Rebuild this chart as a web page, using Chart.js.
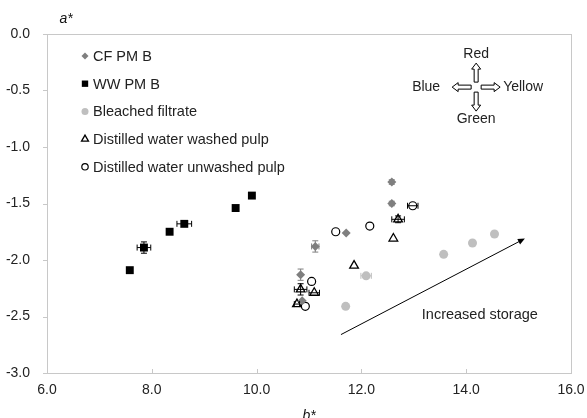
<!DOCTYPE html>
<html>
<head>
<meta charset="utf-8">
<script src="https://cdn.jsdelivr.net/npm/chart.js@4.4.1/dist/chart.umd.min.js"></script>
<style>
  html, body { margin: 0; padding: 0; background: #fff; }
</style>
</head>
<body>
<canvas id="chart" width="587" height="418"></canvas>
<script>
// b* (x), a* (y) and +/- error values
const cfX = [12.58, 12.58, 11.71, 11.12, 10.84, 10.87];
const cfY = [-1.31, -1.50, -1.76, -1.88, -2.13, -2.36];
const cfXErr = [0, 0, 0, 0.07, 0, 0];
const cfYErr = [0.02, 0.02, 0, 0.05, 0.05, 0];

const wwX = [7.58, 7.85, 8.34, 8.62, 9.60, 9.91];
const wwY = [-2.09, -1.89, -1.75, -1.68, -1.54, -1.43];
const wwXErr = [0, 0.13, 0.03, 0.14, 0, 0.05];
const wwYErr = [0, 0.05, 0.02, 0, 0, 0.02];

const bleachX = [14.54, 14.12, 13.57, 12.09, 11.70];
const bleachY = [-1.77, -1.85, -1.95, -2.14, -2.41];
const bleachXErr = [0, 0, 0, 0.1, 0];
const bleachYErr = [0, 0, 0, 0, 0];

const washedX = [12.70, 12.61, 11.86, 10.84, 11.10, 10.77];
const washedY = [-1.64, -1.81, -2.05, -2.26, -2.29, -2.39];
const washedXErr = [0.12, 0, 0, 0.12, 0.1, 0.05];
const washedYErr = [0.03, 0, 0, 0.05, 0, 0];

const unwashedX = [12.98, 12.16, 11.51, 11.05, 10.93];
const unwashedY = [-1.52, -1.70, -1.75, -2.19, -2.41];
const unwashedXErr = [0.1, 0, 0, 0, 0];
const unwashedYErr = [0, 0, 0, 0, 0];

const xTicks = [6, 8, 10, 12, 14, 16];
const yTicks = [-3.0, -2.5, -2.0, -1.5, -1.0, -0.5, 0.0];

// annotations, in data units
const storageArrow = { x0: 11.61, y0: -2.66, x1: 15.12, y1: -1.81 };
const storageLabel = { x: 14.26, y: -2.49, text: 'Increased storage' };
const compass = { x: 14.19, y: -0.47 };

const FONT = '"Liberation Sans", Arial, sans-serif';

function points(xs, ys, xe, ye) {
  return xs.map((x, i) => ({ x: x, y: ys[i], xErr: xe[i], yErr: ye[i] }));
}

const errorBars = {
  id: 'errorBars',
  afterDatasetsDraw(chart) {
    const ctx = chart.ctx;
    const xs = chart.scales.x, ys = chart.scales.y;
    chart.data.datasets.forEach(ds => {
      ctx.save();
      ctx.strokeStyle = ds.errColor;
      ctx.lineWidth = 1;
      ds.data.forEach(p => {
        const px = xs.getPixelForValue(p.x), py = ys.getPixelForValue(p.y);
        if (p.xErr) {
          const l = xs.getPixelForValue(p.x - p.xErr), r = xs.getPixelForValue(p.x + p.xErr);
          ctx.beginPath();
          ctx.moveTo(l, py); ctx.lineTo(r, py);
          ctx.moveTo(l, py - 3); ctx.lineTo(l, py + 3);
          ctx.moveTo(r, py - 3); ctx.lineTo(r, py + 3);
          ctx.stroke();
        }
        if (p.yErr) {
          const t = ys.getPixelForValue(p.y + p.yErr), b = ys.getPixelForValue(p.y - p.yErr);
          ctx.beginPath();
          ctx.moveTo(px, t); ctx.lineTo(px, b);
          ctx.moveTo(px - 3, t); ctx.lineTo(px + 3, t);
          ctx.moveTo(px - 3, b); ctx.lineTo(px + 3, b);
          ctx.stroke();
        }
      });
      ctx.restore();
    });
  }
};

function blockArrow(ctx, cx, cy, angle) {
  // outlined block arrow pointing along angle, starting near the centre
  ctx.save();
  ctx.translate(cx, cy);
  ctx.rotate(angle);
  ctx.beginPath();
  ctx.moveTo(5, -2);
  ctx.lineTo(18, -2);
  ctx.lineTo(18, -4.5);
  ctx.lineTo(24, 0);
  ctx.lineTo(18, 4.5);
  ctx.lineTo(18, 2);
  ctx.lineTo(5, 2);
  ctx.closePath();
  ctx.fillStyle = '#fff';
  ctx.fill();
  ctx.strokeStyle = '#000';
  ctx.lineWidth = 1;
  ctx.stroke();
  ctx.restore();
}

const decorations = {
  id: 'decorations',
  beforeDatasetsDraw(chart) {
    const { ctx, chartArea: a } = chart;
    const xs = chart.scales.x, ys = chart.scales.y;
    ctx.save();
    ctx.strokeStyle = '#c8c8c8';
    ctx.lineWidth = 1;
    ctx.strokeRect(Math.round(a.left) + 0.5, Math.round(a.top) + 0.5,
      Math.round(a.right - a.left), Math.round(a.bottom - a.top));
    ctx.beginPath();
    xTicks.forEach(v => {
      const px = Math.round(xs.getPixelForValue(v)) + 0.5;
      ctx.moveTo(px, a.bottom); ctx.lineTo(px, a.bottom - 4);
    });
    yTicks.forEach(v => {
      const py = Math.round(ys.getPixelForValue(v)) + 0.5;
      ctx.moveTo(a.left, py); ctx.lineTo(a.left - 4, py);
    });
    ctx.stroke();

    // axis titles
    ctx.fillStyle = '#111';
    ctx.font = 'italic 14px ' + FONT;
    ctx.textAlign = 'center';
    ctx.textBaseline = 'middle';
    ctx.fillText('a*', 66, 19);
    ctx.fillText('b*', (a.left + a.right) / 2, 416);

    // storage arrow
    const x0 = xs.getPixelForValue(storageArrow.x0), y0 = ys.getPixelForValue(storageArrow.y0);
    const x1 = xs.getPixelForValue(storageArrow.x1), y1 = ys.getPixelForValue(storageArrow.y1);
    const ang = Math.atan2(y1 - y0, x1 - x0);
    ctx.strokeStyle = '#000';
    ctx.fillStyle = '#000';
    ctx.beginPath();
    ctx.moveTo(x0, y0); ctx.lineTo(x1 - 5 * Math.cos(ang), y1 - 5 * Math.sin(ang));
    ctx.stroke();
    ctx.beginPath();
    ctx.moveTo(x1, y1);
    ctx.lineTo(x1 - 7 * Math.cos(ang) + 3 * Math.sin(ang), y1 - 7 * Math.sin(ang) - 3 * Math.cos(ang));
    ctx.lineTo(x1 - 7 * Math.cos(ang) - 3 * Math.sin(ang), y1 - 7 * Math.sin(ang) + 3 * Math.cos(ang));
    ctx.closePath();
    ctx.fill();

    ctx.font = '14.5px ' + FONT;
    ctx.fillStyle = '#222';
    ctx.fillText(storageLabel.text, xs.getPixelForValue(storageLabel.x), ys.getPixelForValue(storageLabel.y));

    // colour compass
    const cx = xs.getPixelForValue(compass.x), cy = ys.getPixelForValue(compass.y);
    blockArrow(ctx, cx, cy, -Math.PI / 2);
    blockArrow(ctx, cx, cy, Math.PI / 2);
    blockArrow(ctx, cx, cy, Math.PI);
    blockArrow(ctx, cx, cy, 0);
    ctx.font = '14px ' + FONT;
    ctx.fillStyle = '#222';
    ctx.textAlign = 'center';
    ctx.fillText('Red', cx, cy - 33);
    ctx.fillText('Green', cx, cy + 32);
    ctx.textAlign = 'right';
    ctx.fillText('Blue', cx - 36, cy);
    ctx.textAlign = 'left';
    ctx.fillText('Yellow', cx + 27, cy);

    // legend inside the plot
    ctx.font = '14.5px ' + FONT;
    ctx.textAlign = 'left';
    chart.data.datasets.forEach((ds, i) => {
      const ly = a.top + 22 + i * 27.7;
      ctx.save();
      ctx.fillStyle = ds.pointBackgroundColor;
      ctx.strokeStyle = ds.pointBorderColor;
      ctx.lineWidth = ds.pointBorderWidth;
      Chart.helpers.drawPoint(ctx, {
        pointStyle: ds.pointStyle,
        radius: ds.legendRadius,
        borderWidth: ds.pointBorderWidth
      }, 85, ly);
      ctx.restore();
      ctx.fillStyle = '#222';
      ctx.fillText(ds.label, 93, ly + 1);
    });
    ctx.restore();
  }
};

const ctx = document.getElementById('chart').getContext('2d');
new Chart(ctx, {
  type: 'scatter',
  data: {
    datasets: [
      {
        label: 'CF PM B',
        data: points(cfX, cfY, cfXErr, cfYErr),
        pointStyle: 'rectRot',
        pointRadius: 4.5,
        legendRadius: 3.5,
        pointBackgroundColor: '#7f7f7f',
        pointBorderColor: '#7f7f7f',
        pointBorderWidth: 0,
        errColor: '#7f7f7f',
      },
      {
        label: 'WW PM B',
        data: points(wwX, wwY, wwXErr, wwYErr),
        pointStyle: 'rect',
        pointRadius: 5.6,
        legendRadius: 4.5,
        pointBackgroundColor: '#000',
        pointBorderColor: '#000',
        pointBorderWidth: 0,
        errColor: '#000',
      },
      {
        label: 'Bleached filtrate',
        data: points(bleachX, bleachY, bleachXErr, bleachYErr),
        pointStyle: 'circle',
        pointRadius: 4.5,
        legendRadius: 3.5,
        pointBackgroundColor: '#bfbfbf',
        pointBorderColor: '#bfbfbf',
        pointBorderWidth: 0,
        errColor: '#bfbfbf',
      },
      {
        label: 'Distilled water washed pulp',
        data: points(washedX, washedY, washedXErr, washedYErr),
        pointStyle: 'triangle',
        pointRadius: 5,
        legendRadius: 4,
        pointBackgroundColor: '#fff',
        pointBorderColor: '#000',
        pointBorderWidth: 1.3,
        errColor: '#000',
      },
      {
        label: 'Distilled water unwashed pulp',
        data: points(unwashedX, unwashedY, unwashedXErr, unwashedYErr),
        pointStyle: 'circle',
        pointRadius: 4,
        legendRadius: 3.2,
        pointBackgroundColor: '#fff',
        pointBorderColor: '#000',
        pointBorderWidth: 1.2,
        errColor: '#000',
      },
    ],
  },
  options: {
    responsive: false,
    animation: false,
    devicePixelRatio: 1,
    layout: { padding: { left: 0, top: 34, right: 16, bottom: 0 } },
    plugins: { legend: { display: false }, tooltip: { enabled: false } },
    scales: {
      x: {
        type: 'linear',
        min: 6,
        max: 16,
        afterBuildTicks: s => { s.ticks = xTicks.map(v => ({ value: v })); },
        afterFit: s => { s.height = 45; },
        // invisible tick marks give the label gap without widening the right padding
        grid: { display: true, drawOnChartArea: false, drawTicks: true, tickLength: 9, color: 'rgba(0,0,0,0)' },
        border: { display: false },
        ticks: {
          padding: 0,
          color: '#222',
          font: { family: FONT, size: 14 },
          maxRotation: 0,
          callback: v => v.toFixed(1),
        },
      },
      y: {
        type: 'linear',
        min: -3,
        max: 0,
        afterBuildTicks: s => { s.ticks = yTicks.map(v => ({ value: v })); },
        afterFit: s => { s.width = 47; },
        grid: { display: false },
        border: { display: false },
        ticks: {
          padding: 9,
          color: '#222',
          font: { family: FONT, size: 14 },
          callback: v => v.toFixed(1),
        },
      },
    },
  },
  plugins: [decorations, errorBars],
});
</script>
</body>
</html>
